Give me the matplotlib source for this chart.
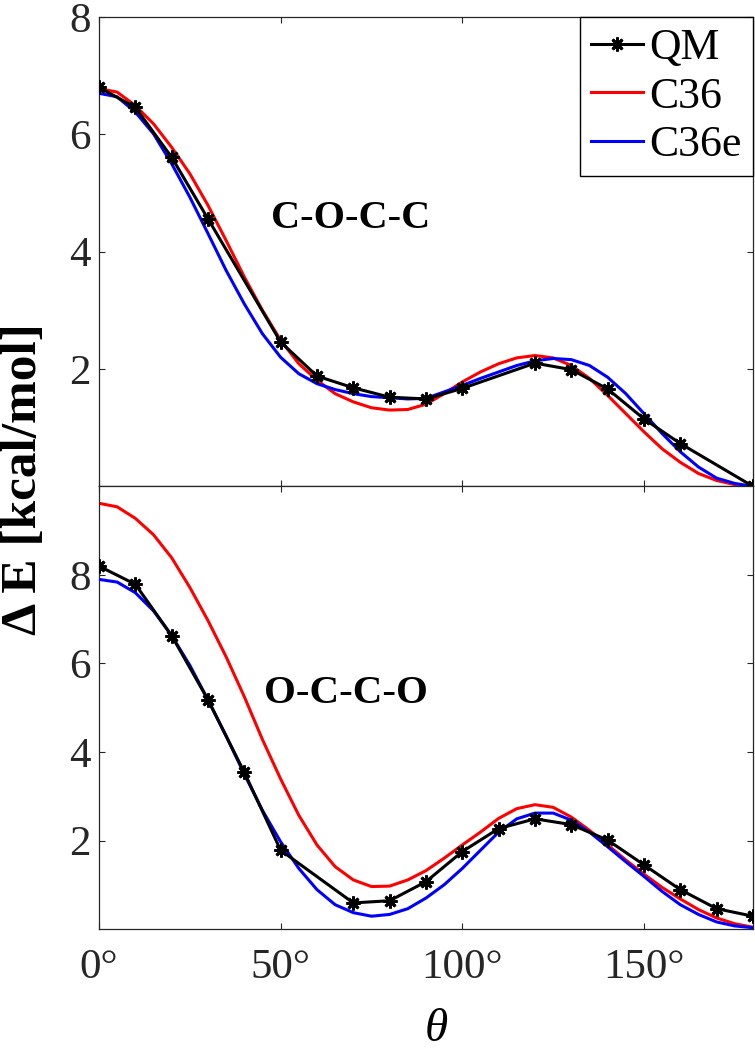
import numpy as np
import matplotlib
matplotlib.use("Agg")
import matplotlib.pyplot as plt

# ========================
# === DATI ===============
# ========================

# punti QM (asterischi)
theta_qm_top = [0, 10, 20, 30, 50, 60, 70, 80, 90, 100, 120, 130, 140, 150, 160, 180]
E_qm_top = [6.80, 6.46, 5.61, 4.56, 2.46, 1.88, 1.68, 1.52, 1.49, 1.67, 2.10, 1.99, 1.66, 1.15, 0.73, 0.00]

theta_qm_bot = [0, 10, 20, 30, 40, 50, 70, 80, 90, 100, 110, 120, 130, 140, 150, 160, 170, 180]
E_qm_bot = [8.20, 7.79, 6.63, 5.18, 3.54, 1.78, 0.59, 0.64, 1.07, 1.75, 2.27, 2.49, 2.36, 2.01, 1.45, 0.89, 0.46, 0.29]

# curve campi di forza, letti ogni 5 gradi
theta_ff = np.arange(0, 181, 5)

E_c36_top = [6.78, 6.72, 6.49, 6.18, 5.78, 5.33, 4.79, 4.19, 3.57, 3.00,
             2.49, 2.09, 1.81, 1.58, 1.44, 1.34, 1.30, 1.31, 1.40, 1.58,
             1.78, 1.95, 2.09, 2.19, 2.23, 2.19, 2.06, 1.84, 1.55, 1.24,
             0.93, 0.64, 0.41, 0.22, 0.10, 0.03, 0.00]
E_c36e_top = [6.70, 6.64, 6.38, 6.01, 5.50, 4.93, 4.31, 3.68, 3.11, 2.60,
              2.20, 1.92, 1.75, 1.65, 1.58, 1.53, 1.51, 1.49, 1.50, 1.61,
              1.72, 1.84, 1.95, 2.06, 2.14, 2.18, 2.16, 2.06, 1.86, 1.58,
              1.24, 0.90, 0.59, 0.33, 0.14, 0.05, 0.00]

E_c36_bot = [9.62, 9.54, 9.28, 8.91, 8.39, 7.72, 6.97, 6.15, 5.25, 4.28,
             3.39, 2.57, 1.90, 1.41, 1.11, 0.96, 0.97, 1.11, 1.32, 1.60,
             1.90, 2.19, 2.50, 2.72, 2.81, 2.75, 2.53, 2.23, 1.90, 1.56,
             1.24, 0.94, 0.68, 0.44, 0.25, 0.12, 0.04]
E_c36e_bot = [7.90, 7.84, 7.60, 7.19, 6.63, 5.96, 5.18, 4.36, 3.50, 2.68,
              1.97, 1.37, 0.89, 0.55, 0.37, 0.29, 0.33, 0.46, 0.70, 1.00,
              1.37, 1.78, 2.19, 2.49, 2.62, 2.62, 2.46, 2.19, 1.86, 1.52,
              1.19, 0.85, 0.55, 0.33, 0.16, 0.07, 0.03]

xticks = [0, 50, 100, 150]
xticklabels = ["0°", "50°", "100°", "150°"]
yticks = [2, 4, 6, 8]

# ========================
# === STILE ==============
# ========================

plt.rcParams["font.family"] = ["Liberation Serif", "DejaVu Serif"]
grey = "#262626"

fig = plt.figure(figsize=(7.55, 10.5), dpi=100)
ax_top = fig.add_axes([0.1311, 0.5368, 0.8662, 0.4470])
ax_bot = fig.add_axes([0.1311, 0.1152, 0.8662, 0.4215])


def draw_panel(ax, th_qm, e_qm, e_c36, e_c36e, ylim):
    ax.plot(theta_ff, e_c36, color="red", lw=2.2, label="C36", zorder=2)
    ax.plot(theta_ff, e_c36e, color="blue", lw=2.2, label="C36e", zorder=3)
    ax.plot(th_qm, e_qm, color="black", lw=2.2, marker=(8, 2, 0),
            markersize=10, markeredgewidth=2.0, label="QM", zorder=4)
    ax.set_xlim(0, 180)
    ax.set_ylim(*ylim)
    ax.set_xticks(xticks)
    ax.set_yticks(yticks)
    ax.tick_params(direction="in", length=4, width=0.8, top=True, right=True,
                   colors=grey, labelsize=31, labelcolor=grey)
    ax.tick_params(axis="y", pad=6)
    ax.tick_params(axis="x", pad=14)
    for s in ax.spines.values():
        s.set_color(grey)
        s.set_linewidth(0.9)


draw_panel(ax_top, theta_qm_top, E_qm_top, E_c36_top, E_c36e_top, (0, 8))
draw_panel(ax_bot, theta_qm_bot, E_qm_bot, E_c36_bot, E_c36e_bot, (0, 10))

ax_top.set_xticklabels([])
ax_bot.set_xticklabels(xticklabels)

ax_top.text(47.3, 4.41, "C-O-C-C", fontsize=29, fontweight="bold", ha="left", va="baseline")
ax_bot.text(45.4, 5.11, "O-C-C-O", fontsize=29.5, fontweight="bold", ha="left", va="baseline")

# legenda: ordine QM, C36, C36e
h, l = ax_top.get_legend_handles_labels()
order = [2, 0, 1]
leg = ax_top.legend([h[i] for i in order], [l[i] for i in order], loc="upper right",
                    fontsize=31.5, borderaxespad=0, fancybox=False, framealpha=1,
                    edgecolor="black", handlelength=1.2, handletextpad=0.15,
                    labelspacing=0.2, borderpad=0.25)
leg.get_frame().set_linewidth(1.0)

fig.text(0.032, 0.544, "Δ E [kcal/mol]", rotation=90, fontsize=37, fontweight="bold",
         ha="center", va="center")
fig.text(0.5775, 0.019, "θ", fontsize=34, style="italic", ha="center", va="center")

fig.savefig("out.png", dpi=100)
